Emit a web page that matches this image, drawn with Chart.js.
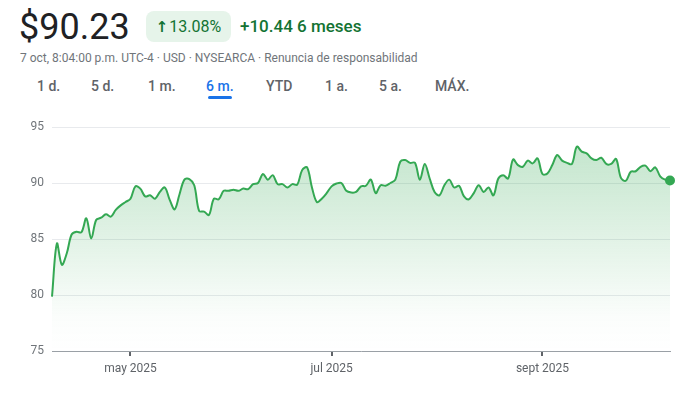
<!DOCTYPE html>
<html>
<head>
<meta charset="utf-8">
<script src="https://cdn.jsdelivr.net/npm/chart.js@4.4.1/dist/chart.umd.min.js"></script>
<style>
  body { margin: 0; width: 691px; height: 393px; background: #fff; font-family: Roboto, "Noto Sans", sans-serif; position: relative; overflow: hidden; }
  .abs { position: absolute; white-space: nowrap; }
  #price { left: 19px; top: 6px; font-size: 36px; color: #202124; }
  #badge { left: 146px; top: 11px; width: 85px; height: 31px; border-radius: 8px; background: #e6f4ea; color: #137333; font-size: 16px; line-height: 31px; text-align: center; }
  #badge .arr { font-family: "DejaVu Sans", sans-serif; font-size: 15px; font-weight: bold; margin-right: 1px; }
  #change { left: 240px; top: 16px; font-size: 17px; font-weight: 500; color: #137333; }
  #sub { left: 20px; top: 51px; font-size: 12px; color: #70757a; }
  .tab { top: 78px; font-size: 14px; font-weight: 500; color: #5f6368; }
  .tab.active { color: #1a73e8; }
  #underline { left: 208px; top: 96px; width: 24px; height: 3px; background: #1a73e8; border-radius: 2px; }
  #wrap { position: absolute; left: 0; top: 100px; width: 691px; height: 293px; }
</style>
</head>
<body>
<div class="abs" id="price">$90.23</div>
<div class="abs" id="badge"><span class="arr">↑</span>13.08%</div>
<div class="abs" id="change">+10.44 6 meses</div>
<div class="abs" id="sub">7 oct, 8:04:00 p.m. UTC-4 · USD · NYSEARCA · Renuncia de responsabilidad</div>
<div id="tabs"></div>
<div class="abs" id="underline"></div>
<div id="wrap"><canvas id="chart" width="691" height="293"></canvas></div>
<script>
// daily closes, Apr 8 2025 -> Oct 7 2025 (last one = after-hours quote)
const prices = [
  79.85, 84.6, 82.7, 83.7, 85.4, 85.65, 85.6, 86.85, 85.05, 86.7,
  86.9, 87.2, 87.0, 87.6, 88.0, 88.3, 88.6, 89.7, 89.5, 88.8,
  88.9, 88.6, 89.2, 89.6, 88.5, 87.65, 89.0, 90.3, 90.35, 89.8,
  87.5, 87.45, 87.15, 88.6, 88.55, 89.3, 89.3, 89.4, 89.3, 89.5,
  89.45, 89.9, 90.0, 90.8, 90.3, 90.7, 89.9, 89.9, 89.6, 89.9,
  89.85, 91.15, 91.4, 89.6, 88.3, 88.6, 89.1, 89.7, 89.95, 90.0,
  89.3, 89.15, 89.2, 89.7, 89.75, 90.3, 89.1, 89.8, 89.75, 90.0,
  90.3, 91.9, 92.05, 91.8, 91.8, 90.3, 91.7, 90.4, 89.2, 88.9,
  89.8, 90.3, 89.6, 89.75, 88.8, 88.55, 89.1, 89.8, 89.2, 89.6,
  88.9, 90.4, 90.7, 90.4, 92.1, 91.6, 91.45, 92.0, 91.75, 92.2,
  90.8, 90.85, 91.6, 92.5, 92.0, 91.8, 91.7, 93.25, 92.8, 92.65,
  92.2, 92.05, 92.25, 91.7, 91.7, 92.15, 90.45, 90.2, 91.0, 91.05,
  91.45, 91.55, 91.05, 91.4, 90.6, 90.3, 90.23
];

const monthTickIdx = [16, 57, 100];
const monthTickLabels = ["may 2025", "jul 2025", "sept 2025"];
const yTicks = [75, 80, 85, 90, 95];

const rangeTabs = ["1 d.", "5 d.", "1 m.", "6 m.", "YTD", "1 a.", "5 a.", "MÁX."];
const tabLeft = [37, 91, 148, 206, 266, 325, 379, 435];

const tabs = document.getElementById("tabs");
rangeTabs.forEach((t, i) => {
  const d = document.createElement("div");
  d.className = "abs tab" + (t === "6 m." ? " active" : "");
  d.style.left = tabLeft[i] + "px";
  d.textContent = t;
  tabs.appendChild(d);
});

const green = "#34a853";
const ctx = document.getElementById("chart").getContext("2d");

new Chart(ctx, {
  type: "line",
  data: {
    datasets: [{
      data: prices.map((p, i) => ({ x: i, y: p })),
      borderColor: green,
      borderWidth: 2,
      tension: 0.35,
      pointRadius: prices.map((p, i) => i === prices.length - 1 ? 5 : 0),
      pointBackgroundColor: green,
      pointBorderWidth: 0,
      clip: false,
      fill: "start",
      backgroundColor: (c) => {
        const area = c.chart.chartArea;
        if (!area) return "rgba(52,168,83,0.2)";
        const g = c.chart.ctx.createLinearGradient(0, area.top, 0, area.bottom);
        g.addColorStop(0, "rgba(52,168,83,0.32)");
        g.addColorStop(0.85, "rgba(52,168,83,0.02)");
        g.addColorStop(1, "rgba(52,168,83,0)");
        return g;
      }
    }]
  },
  options: {
    responsive: false,
    animation: false,
    layout: { padding: { top: 27, right: 21, left: 0, bottom: 0 } },
    plugins: { legend: { display: false }, tooltip: { enabled: false } },
    scales: {
      x: {
        type: "linear",
        min: 0,
        max: prices.length - 1,
        afterBuildTicks: s => { s.ticks = monthTickIdx.map(v => ({ value: v })); },
        afterFit: s => { s.height = 42; },
        ticks: {
          callback: v => monthTickLabels[monthTickIdx.indexOf(v)],
          color: "#5f6368",
          font: { family: "Roboto", size: 12 },
          padding: 6,
          maxRotation: 0
        },
        grid: { drawOnChartArea: false, drawTicks: true, tickLength: 5, color: "#5f6368", lineWidth: 2 },
        border: { display: true, color: "#9aa0a6", width: 1 }
      },
      y: {
        min: 75,
        max: 95,
        afterBuildTicks: s => { s.ticks = yTicks.map(v => ({ value: v })); },
        afterFit: s => { s.width = 52; },
        ticks: {
          color: "#70757a",
          font: { family: "Roboto", size: 12 },
          padding: 8
        },
        grid: { color: "#e8eaed", drawTicks: false },
        border: { display: false }
      }
    }
  }
});
</script>
</body>
</html>
